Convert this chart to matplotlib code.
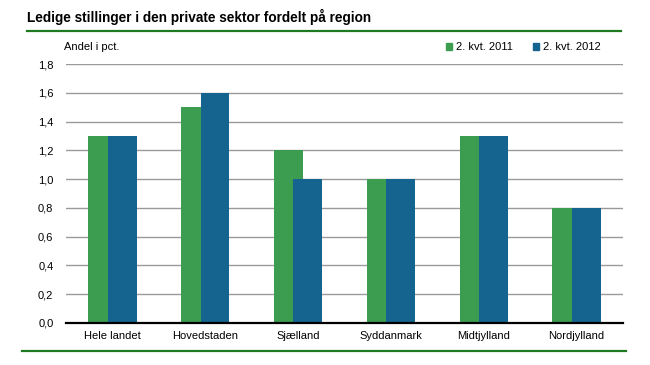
import matplotlib
matplotlib.use("Agg")
import matplotlib.pyplot as plt
from matplotlib.lines import Line2D
from matplotlib.patches import Patch
import numpy as np

categories = ["Hele landet", "Hovedstaden", "Sjælland", "Syddanmark", "Midtjylland", "Nordjylland"]
series_2011 = [1.3, 1.5, 1.2, 1.0, 1.3, 0.8]
series_2012 = [1.3, 1.6, 1.0, 1.0, 1.3, 0.8]
legend_labels = ["2. kvt. 2011", "2. kvt. 2012"]
yticks = [0.0, 0.2, 0.4, 0.6, 0.8, 1.0, 1.2, 1.4, 1.6, 1.8]

plt.rcParams['font.family'] = ["Liberation Sans", "DejaVu Sans"]

green = "#3c9c4f"
blue = "#15638f"

fig = plt.figure(figsize=(6.5, 3.65), dpi=100)
ax = fig.add_axes([66/650, 1-323/365, (623-66)/650, (323-64)/365])

x = np.arange(len(categories))
w = 0.31
ax.bar(x - 0.105, series_2011, width=w, color=green, zorder=3)
ax.bar(x + 0.105, series_2012, width=w, color=blue, zorder=4)

ax.set_xlim(-0.5, len(categories) - 0.5)
ax.set_ylim(0, 1.8)
ax.set_yticks(yticks)
ax.set_yticklabels([f"{v:.1f}".replace(".", ",") for v in yticks], fontsize=8)
ax.set_xticks(x)
ax.set_xticklabels(categories, fontsize=8)
ax.tick_params(axis='both', length=0)
ax.tick_params(axis='y', pad=9)
ax.tick_params(axis='x', pad=6)
for s in ["left", "right", "top"]:
    ax.spines[s].set_visible(False)
ax.spines["bottom"].set_color("black")
ax.spines["bottom"].set_linewidth(1.6)
ax.spines["bottom"].set_zorder(5)
ax.yaxis.grid(True, color="#9a9a9a", linewidth=1.0, zorder=0)
ax.set_axisbelow(True)

fig.text(27/650, 1-17/365, "Ledige stillinger i den private sektor fordelt på region",
         fontsize=9.8, fontweight="bold", va="center", ha="left")
fig.add_artist(Line2D([27/650, 621/650], [1-31/365, 1-31/365], color="#1f7a1f", linewidth=1.6))
fig.add_artist(Line2D([22/650, 626/650], [1-351/365, 1-351/365], color="#1f7a1f", linewidth=1.6))

fig.text(64/650, 1-47/365, "Andel i pct.", fontsize=8, va="center", ha="left")

handles = [Patch(color=green), Patch(color=blue)]
fig.legend(handles, legend_labels, loc="center right", bbox_to_anchor=(606/650, 1-47/365),
           ncol=2, frameon=False, fontsize=8, handlelength=0.6, handleheight=0.6,
           handletextpad=0.3, columnspacing=1.8, borderpad=0)

fig.savefig("out.png", dpi=100)
